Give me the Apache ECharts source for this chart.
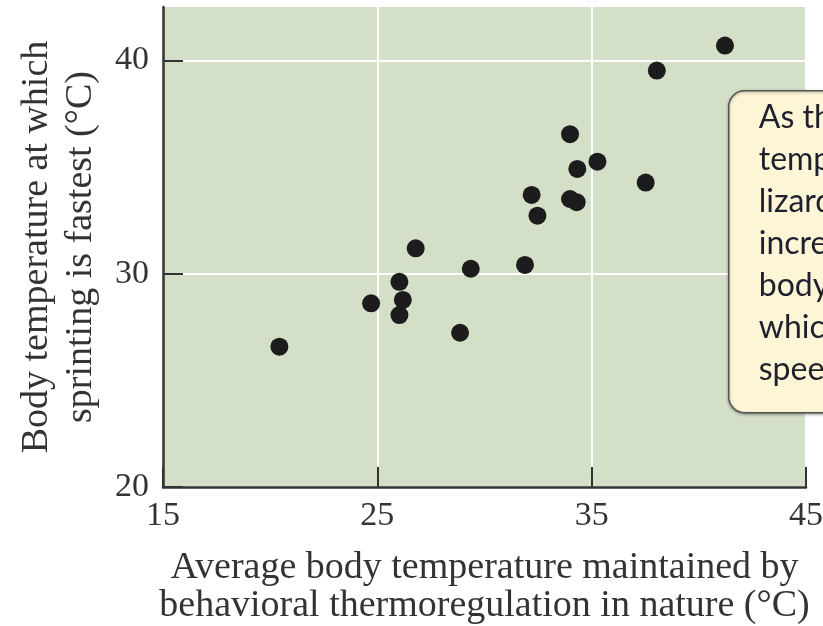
<!DOCTYPE html>
<html>
<head>
<meta charset="utf-8">
<script src="https://cdn.jsdelivr.net/npm/echarts@6/dist/echarts.min.js"></script>
<style>
  html, body { margin: 0; padding: 0; background: #fff; }
  #chart { width: 823px; height: 626px; }
</style>
</head>
<body>
<div id="chart"></div>
<script>
// mean field body temperature (x) vs. temperature of fastest sprint (y)
var fieldTemp  = [20.43, 24.71, 26.03, 26.19, 26.03, 26.79, 28.86, 29.36, 31.89, 32.20,
                  32.47, 33.99, 33.99, 34.30, 34.33, 35.27, 37.52, 38.04, 41.22];
var sprintTemp = [26.58, 28.61, 29.62, 28.77, 28.06, 31.19, 27.23, 30.23, 30.41, 33.69,
                  32.72, 36.54, 33.50, 33.35, 34.91, 35.25, 34.27, 39.52, 40.69];
var xTicks = [15, 25, 35, 45];
var yTicks = [20, 30, 40];
var noteLines = [
	'As the average body',
	'temperature of',
	'lizard species',
	'increased, so did the',
	'body temperature at',
	'which sprinting',
	'speed was fastest.'
];

var points = [];
for (var i = 0; i < fieldTemp.length; i++) {
	points.push([fieldTemp[i], sprintTemp[i]]);
}

var serif = '"Liberation Serif", "DejaVu Serif", serif';
var ink = '#333';

var chart = echarts.init(document.getElementById('chart'));
chart.setOption({
	animation: false,
	grid: {
		left: 163,
		right: 17,
		top: 7,
		bottom: 139,
		outerBoundsMode: 'none',
		show: true,
		backgroundColor: '#d4dfc7',
		borderWidth: 0
	},
	xAxis: {
		type: 'value',
		min: 15,
		max: 45,
		name: 'Average body temperature maintained by\nbehavioral thermoregulation in nature (°C)',
		nameLocation: 'middle',
		nameGap: 62,
		nameTextStyle: { fontFamily: serif, fontSize: 38, lineHeight: 38, color: ink },
		axisLine: { show: true, onZero: false, lineStyle: { color: ink, width: 2.5 } },
		axisTick: { show: true, inside: true, length: 20, customValues: xTicks, lineStyle: { color: ink, width: 2 } },
		axisLabel: { customValues: xTicks, margin: 12, fontFamily: serif, fontSize: 34, color: ink },
		splitLine: { show: true, lineStyle: { color: '#fff', width: 2 } }
	},
	yAxis: {
		type: 'value',
		min: 20,
		max: 42.5,
		name: 'Body temperature at which\nsprinting is fastest (°C)',
		nameLocation: 'middle',
		nameGap: 60,
		nameTextStyle: { fontFamily: serif, fontSize: 38, lineHeight: 44, color: ink },
		axisLine: { show: true, onZero: false, lineStyle: { color: ink, width: 2.5 } },
		axisTick: { show: true, inside: true, length: 20, customValues: yTicks, lineStyle: { color: ink, width: 2 } },
		axisLabel: { customValues: yTicks, margin: 14, fontFamily: serif, fontSize: 34, color: ink },
		splitLine: { show: true, lineStyle: { color: '#fff', width: 2 } }
	},
	graphic: [
		{
			type: 'group',
			left: 728,
			top: 90,
			z: 100,
			children: [
				{
					type: 'rect',
					z: 100,
					shape: { x: 0, y: 0, width: 200, height: 322, r: 16 },
					style: {
						fill: '#fdf6d6',
						stroke: '#555',
						lineWidth: 1.5,
						shadowBlur: 3,
						shadowOffsetY: 1,
						shadowColor: 'rgba(0,0,0,0.35)'
					}
				},
				{
					type: 'text',
					z: 101,
					x: 30,
					y: 6,
					style: {
						text: noteLines.join('\n'),
						font: '32px Lato, "Open Sans", sans-serif',
						lineHeight: 42,
						fill: '#1f1f2e',
						verticalAlign: 'top'
					}
				}
			]
		}
	],
	series: [
		{
			type: 'scatter',
			data: points,
			symbol: 'circle',
			symbolSize: 18,
			itemStyle: { color: '#1c1c1c', opacity: 1 }
		}
	]
});
</script>
</body>
</html>
